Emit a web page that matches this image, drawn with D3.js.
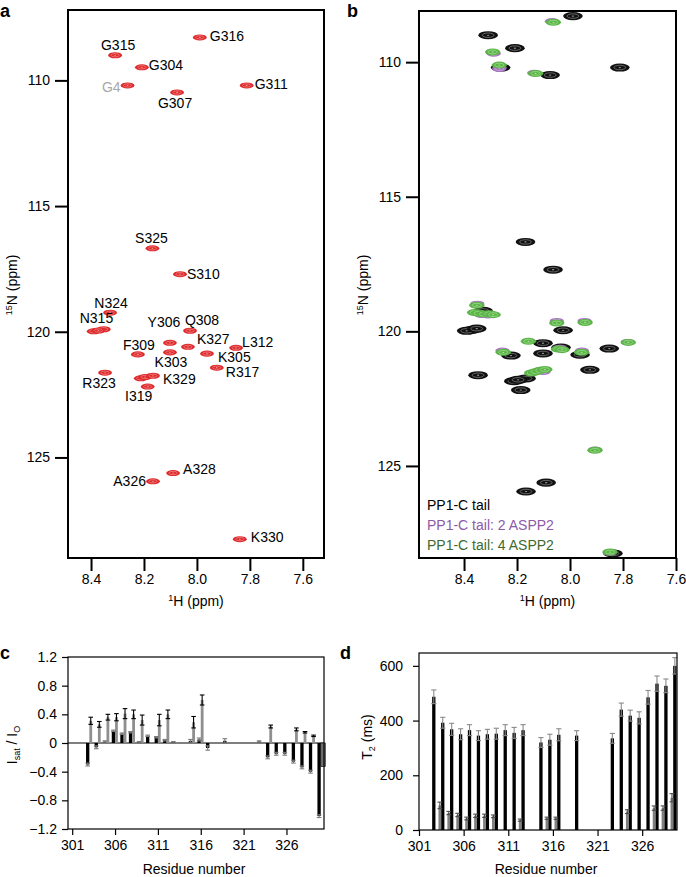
<!DOCTYPE html>
<html>
<head>
<meta charset="utf-8">
<script src="https://cdn.jsdelivr.net/npm/d3@7"></script>
<style>
body { margin: 0; background: #fff; }
svg text { font-family: "Liberation Sans", Arial, Helvetica, sans-serif; }
</style>
</head>
<body>
<svg id="fig" width="686" height="877"></svg>
<script>

// ---- HSQC peaks of the PP1 C-terminal tail (1H ppm, 15N ppm)
var peakNames = ["G316", "G315", "G304", "G4", "G307", "G311", "S325", "S310",
	"N324", "N315", "Y306", "Q308", "K327", "L312", "F309", "K303", "K305",
	"R317", "R323", "K329", "I319", "A328", "A326", "K330"];
var peakH = [7.989, 8.309, 8.208, 8.262, 8.075, 7.812, 8.168, 8.064,
	8.328, 8.372, 8.102, 8.026, 8.034, 7.852, 8.223, 8.102, 7.962,
	7.925, 8.347, 8.166, 8.186, 8.090, 8.166, 7.838];
var peakN = [108.29, 109.00, 109.48, 110.20, 110.48, 110.20, 116.68, 117.71,
	119.24, 119.95, 120.44, 119.96, 120.60, 120.64, 120.90, 120.82, 120.87,
	121.43, 121.63, 121.75, 122.18, 125.62, 125.95, 128.25];

// overlapping, unlabelled peaks in the crowded spots
var extraH = [8.390, 8.352, 8.212, 8.196];
var extraN = [119.98, 119.90, 121.85, 121.80];

// titration with ASPP2 (panel b)
var purpleH = [8.068, 8.288, 8.267, 8.135, 8.335, 8.310, 8.350, 8.050, 7.945,
	8.040, 7.955, 8.255, 8.115, 8.100, 7.905, 7.782, 7.850];
var purpleN = [108.48, 109.68, 110.24, 110.40, 119.38, 119.40, 118.98, 119.62, 119.62,
	120.62, 120.72, 120.72, 121.45, 121.50, 124.40, 120.40, 128.22];
var greenH = [8.063, 8.292, 8.267, 8.130, 8.360, 8.345, 8.325, 8.305, 8.290, 8.352,
	8.050, 7.943, 7.780, 8.044, 8.030, 7.956, 8.252, 8.145, 8.130, 8.112, 8.095,
	7.906, 7.849, 8.157];
var greenN = [108.52, 109.62, 110.11, 110.42, 119.30, 119.33, 119.36, 119.35, 119.38, 119.03,
	119.69, 119.67, 120.41, 120.66, 120.68, 120.78, 120.78, 121.55, 121.50, 121.45, 121.42,
	124.42, 128.20, 120.37];
var legendNames = ["PP1-C tail", "PP1-C tail: 2 ASPP2", "PP1-C tail: 4 ASPP2"];

// ---- panel c: saturation transfer
var satResidues = [303, 304, 305, 306, 307, 308, 309, 310, 311, 312, 313, 315,
	316, 317, 319, 323, 324, 325, 326, 327, 328, 329, 330];
var satBlack = [-0.30, -0.06, 0.02, 0.17, 0.13, 0.15, 0.01, 0.10, 0.08, 0.04, 0.01, 0.03,
	0.05, -0.07, 0.03, 0.02, -0.20, -0.15, -0.15, -0.26, -0.34, -0.40, -1.02];
var satBlackErr = [0.02, 0.02, 0.01, 0.01, 0.01, 0.01, 0.01, 0.01, 0.01, 0.01, 0.01, 0.02,
	0.02, 0.03, 0.03, 0.01, 0.02, 0.02, 0.02, 0.02, 0.02, 0.02, 0.02];
var satGrey = [0.31, 0.26, 0.36, 0.36, 0.41, 0.40, 0.32, 0, 0.32, 0.40, 0.01, 0.29,
	0.60, 0, 0, 0, 0.23, 0, 0, 0.19, 0.15, 0.10, -0.33];
var satGreyErr = [0.05, 0.04, 0.04, 0.05, 0.07, 0.06, 0.07, 0, 0.08, 0.06, 0, 0.08,
	0.07, 0, 0, 0, 0.02, 0, 0, 0.02, 0.01, 0.01, 0];

// ---- panel d: T2 relaxation
var t2Residues = satResidues;
var t2Black = [487, 392, 368, 350, 365, 345, 350, 352, 365, 355, 365, 320,
	330, 348, 345, 335, 440, 418, 410, 485, 535, 527, 600];
var t2BlackErr = [25, 20, 22, 20, 20, 18, 18, 20, 20, 20, 20, 18,
	20, 22, 18, 18, 24, 20, 22, 25, 28, 25, 30];
var t2GreyResidues = [303, 304, 305, 306, 307, 308, 309, 312, 315, 316, 324, 327, 328, 329];
var t2Grey = [90, 62, 55, 42, 52, 52, 50, 36, 43, 43, 67, 80, 80, 118];
var t2GreyErr = [12, 6, 6, 5, 6, 6, 5, 4, 4, 4, 7, 8, 8, 15];

var hTicks = [8.4, 8.2, 8.0, 7.8, 7.6];
var nTicks = [110, 115, 120, 125];
var resTicks = [301, 306, 311, 316, 321, 326];
var satTicks = [1.2, 0.8, 0.4, 0, -0.4, -0.8, -1.2];
var t2Ticks = [0, 200, 400, 600];

// label placement next to each peak in panel a: dx, dy (px), anchor
var labelLayout = {
	G316: [10, -1, "start"], G315: [3, -10, "middle"], G304: [7, -2, "start"],
	G4: [-7, 2, "end"], G307: [-2, 11, "middle"], G311: [8, -1, "start"],
	S325: [-1, -10, "middle"], S310: [7, 0, "start"], N324: [1, -10, "middle"],
	N315: [-2, -12, "middle"], Y306: [-6, -21, "middle"], Q308: [12, -11, "middle"],
	K327: [9, -8, "start"], L312: [6, -6, "start"], F309: [1, -9, "middle"],
	K303: [1, 10, "middle"], K305: [11, 3, "start"], R317: [9, 4, "start"],
	R323: [-6, 10, "middle"], K329: [10, 3, "start"], I319: [-9, 10, "middle"],
	A328: [10, -4, "start"], A326: [-7, 0, "end"], K330: [11, -2, "start"]
};

var svg = d3.select("#fig");
var FONT = "Liberation Sans, Arial, sans-serif";

function styleAxis(g, w) {
	g.attr("font-family", FONT).attr("font-size", 14);
	g.select(".domain").remove();
	g.selectAll(".tick line").attr("stroke", "#000").attr("stroke-width", w);
	g.selectAll(".tick text").attr("fill", "#000");
}

function drawPeaks(g, x, y, H, N, opt) {
	g.append("g").selectAll("g")
		.data(d3.range(H.length))
		.join("g")
		.each(function (i) {
			var cx = x(H[i]), cy = y(N[i]);
			var rx = Math.abs(x(H[i] + opt.wH) - cx);
			var ry = Math.abs(y(N[i] + opt.wN) - cy);
			var s = d3.select(this);
			s.append("ellipse").attr("cx", cx).attr("cy", cy)
				.attr("rx", rx).attr("ry", ry).attr("fill", opt.fill);
			s.append("ellipse").attr("cx", cx).attr("cy", cy)
				.attr("rx", rx * 0.6).attr("ry", ry * 0.55)
				.attr("fill", "none").attr("stroke", opt.inner).attr("stroke-width", 0.6);
			s.append("ellipse").attr("cx", cx).attr("cy", cy)
				.attr("rx", Math.max(rx * 0.12, 0.8)).attr("ry", 0.6).attr("fill", opt.inner);
		});
}

function nmrFrame(box, x, y) {
	var g = svg.append("g");
	g.append("g").attr("transform", "translate(" + box.l + ",0)")
		.call(d3.axisLeft(y).tickValues(nTicks).tickSize(13).tickPadding(5))
		.call(styleAxis, 2);
	g.append("g").attr("transform", "translate(0," + box.b + ")")
		.call(d3.axisBottom(x).tickValues(hTicks).tickSize(13).tickPadding(3)
			.tickFormat(d3.format(".1f")))
		.call(styleAxis, 2);
	g.append("rect").attr("x", box.l).attr("y", box.t)
		.attr("width", box.r - box.l).attr("height", box.b - box.t)
		.attr("fill", "none").attr("stroke", "#000").attr("stroke-width", 2);

	// 1H title
	var tx = g.append("text").attr("x", (box.l + box.r) / 2).attr("y", 606)
		.attr("text-anchor", "middle").attr("font-size", 14);
	tx.append("tspan").attr("font-size", 9).attr("dy", -5).text("1");
	tx.append("tspan").attr("dy", 5).text("H (ppm)");

	// 15N title
	var ty = g.append("text")
		.attr("transform", "translate(" + box.yt + ",285) rotate(-90)")
		.attr("text-anchor", "middle").attr("font-size", 14);
	ty.append("tspan").attr("font-size", 9).attr("dy", -5).text("15");
	ty.append("tspan").attr("dy", 5).text("N (ppm)");
	return g;
}

// ================= panel a
var boxA = {l: 68, r: 324, t: 10, b: 558, yt: 17};
var xA = d3.scaleLinear().domain([8.487, 7.52]).range([boxA.l, boxA.r]);
var yA = d3.scaleLinear().domain([107.2, 129.0]).range([boxA.t, boxA.b]);
var gA = nmrFrame(boxA, xA, yA);
var redOpt = {fill: "#de2a2c", inner: "#f39a9a", wH: 0.026, wN: 0.12};
drawPeaks(gA, xA, yA, extraH, extraN, redOpt);
drawPeaks(gA, xA, yA, peakH, peakN, redOpt);

gA.append("g").selectAll("text")
	.data(peakNames)
	.join("text")
	.attr("x", (d, i) => xA(peakH[i]) + labelLayout[d][0])
	.attr("y", (d, i) => yA(peakN[i]) + labelLayout[d][1])
	.attr("dy", "0.35em")
	.attr("text-anchor", d => labelLayout[d][2])
	.attr("font-size", 14)
	.attr("fill", d => d === "G4" ? "#a8a8a8" : "#000")
	.text(d => d);

// ================= panel b
var boxB = {l: 419, r: 676, t: 11, b: 558, yt: 368};
var xB = d3.scaleLinear().domain([8.57, 7.6]).range([boxB.l, boxB.r]);
var yB = d3.scaleLinear().domain([108.1, 128.42]).range([boxB.t, boxB.b]);
var gB = nmrFrame(boxB, xB, yB);
drawPeaks(gB, xB, yB, peakH.concat(extraH), peakN.concat(extraN),
	{fill: "#111", inner: "#9a9a9a", wH: 0.037, wN: 0.15});
drawPeaks(gB, xB, yB, purpleH, purpleN,
	{fill: "#a874c4", inner: "#dcc0ea", wH: 0.027, wN: 0.12});
drawPeaks(gB, xB, yB, greenH, greenN,
	{fill: "#5bb548", inner: "#b4e6a4", wH: 0.029, wN: 0.13});

var legendColors = ["#000", "#8d5aa8", "#3e6a30"];
gB.append("g").selectAll("text")
	.data(legendNames)
	.join("text")
	.attr("x", 427)
	.attr("y", (d, i) => 510 + i * 20)
	.attr("font-size", 14)
	.attr("fill", (d, i) => legendColors[i])
	.text(d => d);

// ================= bar panels
function barFrame(box, x, y, yTicks, fmt, pad) {
	var g = svg.append("g");
	g.append("g").attr("transform", "translate(" + box.l + ",0)")
		.call(d3.axisLeft(y).tickValues(yTicks).tickSize(6).tickPadding(pad).tickFormat(fmt))
		.call(styleAxis, 1.2);
	g.append("g").attr("transform", "translate(0," + box.b + ")")
		.call(d3.axisBottom(x).tickValues(resTicks).tickSize(6).tickPadding(5)
			.tickFormat(d3.format("d")))
		.call(styleAxis, 1.2);
	g.append("text").attr("x", (box.l + box.r) / 2 - 2).attr("y", 874)
		.attr("text-anchor", "middle").attr("font-size", 14).text("Residue number");
	return g;
}

function errBars(g, xs, ys0, ys1, color, w) {
	var e = g.append("g").attr("stroke", color).attr("stroke-width", 1.1);
	xs.forEach(function (cx, i) {
		var a = ys0[i], b = ys1[i];
		e.append("line").attr("x1", cx).attr("x2", cx).attr("y1", a).attr("y2", b);
		e.append("line").attr("x1", cx - w).attr("x2", cx + w).attr("y1", a).attr("y2", a);
		e.append("line").attr("x1", cx - w).attr("x2", cx + w).attr("y1", b).attr("y2", b);
	});
}

// ---- panel c
var boxC = {l: 68, r: 324, t: 657, b: 829};
var xC = d3.scaleLinear().domain([300.51, 330.38]).range([boxC.l, boxC.r]);
var yC = d3.scaleLinear().domain([-1.2, 1.2]).range([boxC.b, boxC.t]);
var gC = barFrame(boxC, xC, yC, satTicks, d => d === 0 ? "0" : d3.format(".1f")(d), 5);

gC.append("line").attr("x1", boxC.l).attr("x2", boxC.r)
	.attr("y1", yC(0)).attr("y2", yC(0)).attr("stroke", "#000").attr("stroke-width", 1.2);

gC.append("g").selectAll("rect")
	.data(satResidues)
	.join("rect")
	.attr("x", d => xC(d) - 3.3)
	.attr("width", 3.3)
	.attr("y", (d, i) => Math.min(yC(0), yC(satBlack[i])))
	.attr("height", (d, i) => Math.abs(yC(satBlack[i]) - yC(0)))
	.attr("fill", "#000");
gC.append("g").selectAll("rect")
	.data(satResidues)
	.join("rect")
	.attr("x", d => xC(d))
	.attr("width", (d, i) => satGrey[i] < 0 ? 4.5 : 2.8)
	.attr("y", (d, i) => Math.min(yC(0), yC(satGrey[i])))
	.attr("height", (d, i) => Math.abs(yC(satGrey[i]) - yC(0)))
	.attr("fill", (d, i) => satGrey[i] < 0 ? "#6e6e6e" : "#8f8f8f")
	.attr("stroke", (d, i) => satGrey[i] < 0 ? "#000" : "none")
	.attr("stroke-width", 0.6);

var cbi = satResidues.map((d, i) => i).filter(i => satBlackErr[i] > 0);
errBars(gC, cbi.map(i => xC(satResidues[i]) - 1.65),
	cbi.map(i => yC(satBlack[i] + satBlackErr[i])),
	cbi.map(i => yC(satBlack[i] - satBlackErr[i])), "#7a7a7a", 2.3);
var cgi = satResidues.map((d, i) => i).filter(i => satGreyErr[i] > 0);
errBars(gC, cgi.map(i => xC(satResidues[i]) + 1.4),
	cgi.map(i => yC(satGrey[i] + satGreyErr[i])),
	cgi.map(i => yC(satGrey[i] - satGreyErr[i])), "#000", 2.3);

gC.append("rect").attr("x", boxC.l).attr("y", boxC.t)
	.attr("width", boxC.r - boxC.l).attr("height", boxC.b - boxC.t)
	.attr("fill", "none").attr("stroke", "#000").attr("stroke-width", 1.2);

var tc = gC.append("text")
	.attr("transform", "translate(17,745) rotate(-90)")
	.attr("text-anchor", "middle").attr("font-size", 14);
tc.append("tspan").text("I");
tc.append("tspan").attr("font-size", 9).attr("dy", 3).text("sat");
tc.append("tspan").attr("dy", -3).text(" / I");
tc.append("tspan").attr("font-size", 9).attr("dy", 3).text("O");

// ---- panel d
var boxD = {l: 419, r: 677, t: 653, b: 830};
var xD = d3.scaleLinear().domain([301, 329.9]).range([boxD.l, boxD.r]);
var yD = d3.scaleLinear().domain([0, 647]).range([boxD.b, boxD.t]);
var gD = barFrame(boxD, xD, yD, t2Ticks, d3.format("d"), 10);

gD.append("g").selectAll("rect")
	.data(t2Residues)
	.join("rect")
	.attr("x", d => xD(d) - 4.7)
	.attr("width", 3.3)
	.attr("y", (d, i) => yD(t2Black[i]))
	.attr("height", (d, i) => yD(0) - yD(t2Black[i]))
	.attr("fill", "#000");
gD.append("g").selectAll("rect")
	.data(t2GreyResidues)
	.join("rect")
	.attr("x", d => xD(d) + 1.6)
	.attr("width", 2.8)
	.attr("y", (d, i) => yD(t2Grey[i]))
	.attr("height", (d, i) => yD(0) - yD(t2Grey[i]))
	.attr("fill", "#7f7f7f");

errBars(gD, t2Residues.map(d => xD(d) - 3.05),
	t2Black.map((v, i) => yD(v + t2BlackErr[i])),
	t2Black.map((v, i) => yD(v - t2BlackErr[i])), "#8a8a8a", 2.6);
errBars(gD, t2GreyResidues.map(d => xD(d) + 3),
	t2Grey.map((v, i) => yD(v + t2GreyErr[i])),
	t2Grey.map((v, i) => yD(v - t2GreyErr[i])), "#4a4a4a", 2.4);

gD.append("rect").attr("x", boxD.l).attr("y", boxD.t)
	.attr("width", boxD.r - boxD.l).attr("height", boxD.b - boxD.t)
	.attr("fill", "none").attr("stroke", "#000").attr("stroke-width", 1.2);

var td = gD.append("text")
	.attr("transform", "translate(372,737) rotate(-90)")
	.attr("text-anchor", "middle").attr("font-size", 14);
td.append("tspan").text("T");
td.append("tspan").attr("font-size", 9).attr("dy", 3).text("2");
td.append("tspan").attr("dy", -3).text(" (ms)");

// panel letters
var letters = [["a", 0, 17], ["b", 347, 17], ["c", 0, 659], ["d", 340, 659]];
svg.append("g").selectAll("text")
	.data(letters)
	.join("text")
	.attr("x", d => d[1]).attr("y", d => d[2])
	.attr("font-size", 18).attr("font-weight", "bold")
	.text(d => d[0]);

</script>
</body>
</html>
